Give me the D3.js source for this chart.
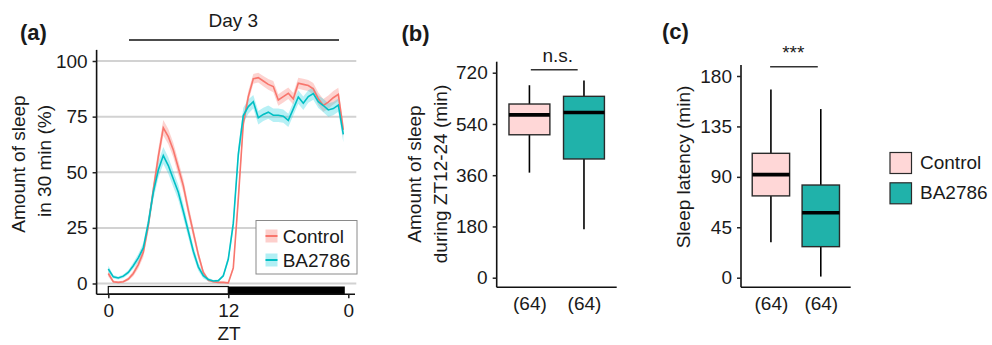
<!DOCTYPE html>
<html>
<head>
<meta charset="utf-8">
<script src="https://cdn.jsdelivr.net/npm/d3@7"></script>
<style>
body { margin: 0; background: #fff; }
svg text { font-family: "Liberation Sans", Arial, sans-serif; fill: #1a1a1a; }
</style>
</head>
<body>
<svg id="chart" width="992" height="345"></svg>
<script>

// (a) sleep per 30 min bin, day 3
var zt = [0,0.5,1,1.5,2,2.5,3,3.5,4,4.5,5,5.5,6,6.5,7,7.5,8,8.5,9,9.5,10,10.5,11,11.5,
          12,12.5,13,13.5,14,14.5,15,15.5,16,16.5,17,17.5,18,18.5,19,19.5,20,20.5,21,21.5,22,22.5,23,23.5];
var ctrlSleep = [4.5,0.8,0.5,0.8,2,4.5,8.5,14,26,42,57,70,66,60,52,44,33,23,13,5,1.5,0.8,0.5,0.5,
                 0.3,7,38,72,84,92,92.5,91,89.5,88.5,82.5,84,85.5,83,90,89.5,89,87.5,83,80,81.5,83.5,85,69];
var ctrlSem   = [1.5,0.5,0.4,0.5,0.8,1.2,1.8,2.2,2.8,3.2,3.4,3.5,3.4,3.3,3.2,3.0,2.8,2.4,1.8,1.2,0.8,0.5,0.4,0.4,
                 0.3,1.2,3.0,3.0,2.5,2.2,2.2,2.3,2.4,2.5,2.6,2.6,2.6,2.6,2.5,2.5,2.5,2.6,2.8,2.9,3.0,3.0,3.0,3.2];
var baSleep   = [6.5,3,2.5,3.3,5,8,11.5,16,27,41,51,57.5,53,47,41,32.5,23.5,14.5,7.5,3.5,1.8,1.1,1.3,3.5,
                 11,27,58,75.5,79.5,81.7,74.5,76,77,75.6,75.6,75.2,73.3,78.5,83.8,81,84,85.4,81.7,80,78,78.6,80.2,67];
var baSem     = [1.5,0.8,0.7,0.8,1.0,1.4,1.8,2.2,3.0,3.4,3.6,3.8,3.7,3.6,3.4,3.2,2.8,2.4,1.8,1.2,0.8,0.5,0.5,0.8,
                 1.5,3.0,3.5,3.5,3.2,3.0,3.0,3.0,3.0,3.0,3.0,3.0,3.0,3.0,3.0,3.0,2.8,2.8,2.8,3.0,3.0,3.0,3.0,3.5];
var sleepTicks = [0,25,50,75,100];
var ztTicks = [0,12,24];

// (b) and (c) box stats, Control then BA2786
var groups = ["Control","BA2786"];
var nFlies = [64,64];
var nightLow  = [369,170];
var nightQ1   = [502,417];
var nightMed  = [572,580];
var nightQ3   = [610,637];
var nightHigh = [676,693];
var nightTicks = [0,180,360,540,720];
var latLow  = [31.6,1];
var latQ1   = [73,27.7];
var latMed  = [92,58];
var latQ3   = [111,82.7];
var latHigh = [168,150.5];
var latTicks = [0,45,90,135,180];

var lineCol = ["#F8766D","#00BFC4"];
var ribbonCol = ["#F8766D","#1FD0E0"];
var boxCol = ["#FFD7D7","#20B2AA"];
var fs = 19;

var svg = d3.select("#chart");

function label(g, x, y, txt, opt) {
    opt = opt || {};
    var t = g.append("text").attr("x", x).attr("y", y).text(txt)
        .attr("font-size", opt.size || fs)
        .attr("text-anchor", opt.anchor || "start");
    if (opt.bold) t.attr("font-weight", "bold");
    return t;
}

function ytitle(g, x, y, txt) {
    g.append("text").attr("transform", "translate(" + x + "," + y + ") rotate(-90)")
        .attr("text-anchor", "middle").attr("font-size", fs).text(txt);
}

function styleAxis(sel) {
    sel.select(".domain").remove();
    sel.selectAll(".tick line").attr("stroke", "#222").attr("stroke-width", 1.5);
    sel.selectAll(".tick text").attr("font-size", fs).attr("fill", "#1a1a1a")
        .attr("font-family", '"Liberation Sans", Arial, sans-serif');
}

// ---------- panel a ----------
var ax = d3.scaleLinear().domain([0, 24]).range([108.3, 348.3]);
var ay = d3.scaleLinear().domain([0, 100]).range([283.5, 61]);
var ga = svg.append("g");

ga.selectAll("line.grid").data(sleepTicks).enter().append("line")
    .attr("x1", ax(-1.2)).attr("x2", ax(24.8))
    .attr("y1", function(d) { return ay(d); }).attr("y2", function(d) { return ay(d); })
    .attr("stroke", "#d2d2d2").attr("stroke-width", 2);

var series = [
    {v: ctrlSleep, e: ctrlSem, i: 0},
    {v: baSleep, e: baSem, i: 1}
];
var area = d3.area()
    .x(function(d, i) { return ax(zt[i]); })
    .y0(function(d) { return ay(d[0] - d[1]); })
    .y1(function(d) { return ay(d[0] + d[1]); });
var line = d3.line()
    .x(function(d, i) { return ax(zt[i]); })
    .y(function(d) { return ay(d); });

series.forEach(function(s) {
    ga.append("path").datum(s.v.map(function(v, k) { return [v, s.e[k]]; }))
        .attr("d", area).attr("fill", ribbonCol[s.i]).attr("fill-opacity", 0.32);
});
series.forEach(function(s) {
    ga.append("path").datum(s.v).attr("d", line)
        .attr("fill", "none").attr("stroke", lineCol[s.i]).attr("stroke-width", 1.6);
});

// light/dark bar
ga.append("rect").attr("x", ax(0)).attr("y", 286.5).attr("width", ax(12) - ax(0)).attr("height", 7.5)
    .attr("fill", "#fff").attr("stroke", "#111").attr("stroke-width", 1.2);
ga.append("rect").attr("x", ax(12)).attr("y", 286.5).attr("width", ax(23.65) - ax(12)).attr("height", 7.5)
    .attr("fill", "#000");

// axes
ga.append("line").attr("x1", ax(-1.17)).attr("x2", ax(-1.17)).attr("y1", ay(105)).attr("y2", 294.3)
    .attr("stroke", "#111").attr("stroke-width", 1.6);
ga.append("line").attr("x1", ax(-1.17)).attr("x2", ax(24.67)).attr("y1", 294.3).attr("y2", 294.3)
    .attr("stroke", "#111").attr("stroke-width", 1.6);
ga.append("g").attr("transform", "translate(" + ax(-1.17) + ",0)")
    .call(d3.axisLeft(ay).tickValues(sleepTicks).tickSize(4).tickPadding(5))
    .call(styleAxis);
ga.append("g").attr("transform", "translate(0,294.3)")
    .call(d3.axisBottom(ax).tickValues(ztTicks).tickSize(4).tickPadding(5)
        .tickFormat(function(d) { return d == 24 ? "0" : d; }))
    .call(styleAxis);

label(ga, 229, 340, "ZT", {anchor: "middle"});
ytitle(ga, 25, 164, "Amount of sleep");
ytitle(ga, 51, 161, "in 30 min (%)");
label(ga, 233.3, 27, "Day 3", {anchor: "middle"});
ga.append("line").attr("x1", ax(2.07)).attr("x2", ax(23.07)).attr("y1", 40).attr("y2", 40)
    .attr("stroke", "#111").attr("stroke-width", 1.6);
label(ga, 20, 40, "(a)", {bold: true, size: 22});

// legend a
var lg = ga.append("g");
lg.append("rect").attr("x", 256).attr("y", 220.5).attr("width", 101).attr("height", 53.5)
    .attr("fill", "#fff").attr("stroke", "#8a8a8a").attr("stroke-width", 1);
groups.forEach(function(g, i) {
    var yy = 236 + i * 24;
    lg.append("rect").attr("x", 265.5).attr("y", yy - 6.5).attr("width", 12).attr("height", 13)
        .attr("fill", ribbonCol[i]).attr("fill-opacity", 0.35);
    lg.append("line").attr("x1", 265.5).attr("x2", 277.5).attr("y1", yy).attr("y2", yy)
        .attr("stroke", lineCol[i]).attr("stroke-width", 2);
    label(lg, 282.7, yy + 7, g);
});

// ---------- box panels ----------
function boxPanel(o) {
    var g = svg.append("g");
    var x = d3.scalePoint().domain(groups).range([o.x0, o.x1]).padding(0.6);
    var y = d3.scaleLinear().domain([0, o.max]).range([277.7, o.top]);
    var bw = x.step() * 0.75;

    groups.forEach(function(name, i) {
        var cx = x(name);
        g.append("line").attr("x1", cx).attr("x2", cx).attr("y1", y(o.hi[i])).attr("y2", y(o.q3[i]))
            .attr("stroke", "#000").attr("stroke-width", 1.6);
        g.append("line").attr("x1", cx).attr("x2", cx).attr("y1", y(o.q1[i])).attr("y2", y(o.lo[i]))
            .attr("stroke", "#000").attr("stroke-width", 1.6);
        g.append("rect").attr("x", cx - bw / 2).attr("y", y(o.q3[i]))
            .attr("width", bw).attr("height", y(o.q1[i]) - y(o.q3[i]))
            .attr("fill", boxCol[i]).attr("stroke", "#2a2a2a").attr("stroke-width", 1.4);
        g.append("line").attr("x1", cx - bw / 2).attr("x2", cx + bw / 2)
            .attr("y1", y(o.med[i])).attr("y2", y(o.med[i]))
            .attr("stroke", "#000").attr("stroke-width", 3.6);
    });

    g.append("line").attr("x1", o.x0).attr("x2", o.x0).attr("y1", o.axTop).attr("y2", 287.3)
        .attr("stroke", "#111").attr("stroke-width", 1.6);
    g.append("line").attr("x1", o.x0).attr("x2", o.x1).attr("y1", 287.3).attr("y2", 287.3)
        .attr("stroke", "#111").attr("stroke-width", 1.6);
    g.append("g").attr("transform", "translate(" + o.x0 + ",0)")
        .call(d3.axisLeft(y).tickValues(o.ticks).tickSize(4).tickPadding(5))
        .call(styleAxis);
    g.append("g").attr("transform", "translate(0,287.3)")
        .call(d3.axisBottom(x).tickSize(0).tickPadding(9)
            .tickFormat(function(d, i) { return "(" + nFlies[i] + ")"; }))
        .call(styleAxis);

    // significance bar
    g.append("line").attr("x1", x(groups[0]) + o.sig[0]).attr("x2", x(groups[1]) + o.sig[1])
        .attr("y1", o.sigY).attr("y2", o.sigY).attr("stroke", "#333").attr("stroke-width", 1.6);
    label(g, o.sigTx, o.sigY - 7.5, o.sigText, {anchor: "middle"});

    o.titles.forEach(function(t) { ytitle(g, t[0], o.titleY, t[1]); });
    label(g, o.tagX, o.tagY, o.tag, {bold: true, size: 22});
    return g;
}

boxPanel({
    x0: 496.7, x1: 616.7, top: 72.7, axTop: 61.7, max: 720, ticks: nightTicks,
    lo: nightLow, q1: nightQ1, med: nightMed, q3: nightQ3, hi: nightHigh,
    sig: [1.4, -6.3], sigY: 69.7, sigTx: 557.7, sigText: "n.s.",
    titles: [[421, "Amount of sleep"], [447, "during ZT12-24 (min)"]], titleY: 174,
    tag: "(b)", tagX: 401.5, tagY: 41
});

var gc = boxPanel({
    x0: 741, x1: 850.7, top: 76, axTop: 65, max: 180, ticks: latTicks,
    lo: latLow, q1: latQ1, med: latMed, q3: latQ3, hi: latHigh,
    sig: [-0.8, -3], sigY: 66.7, sigTx: 793.3, sigText: "***",
    titles: [[690, "Sleep latency (min)"]], titleY: 167,
    tag: "(c)", tagX: 662, tagY: 39
});

// legend c
groups.forEach(function(g, i) {
    var yy = 152.5 + i * 30.3;
    gc.append("rect").attr("x", 890).attr("y", yy).attr("width", 21.5).attr("height", 21)
        .attr("fill", boxCol[i]).attr("stroke", "#2a2a2a").attr("stroke-width", 1.2);
    label(gc, 920, yy + 16.5, g);
});

</script>
</body>
</html>
